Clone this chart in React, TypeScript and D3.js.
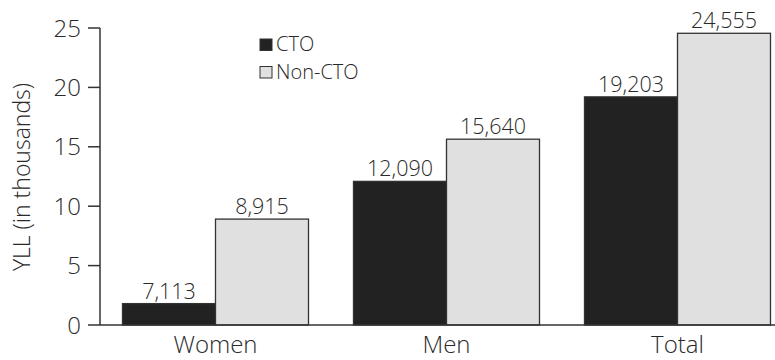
import React from "react";
import * as d3 from "d3";

const categories = ["Women", "Men", "Total"];
const series = ["CTO", "Non-CTO"];
// bar heights in thousands, as drawn in the reference
const ctoValues = [1.8, 12.09, 19.203];
const nonCtoValues = [8.915, 15.64, 24.555];
const ctoLabels = ["7,113", "12,090", "19,203"];
const nonCtoLabels = ["8,915", "15,640", "24,555"];
const yTicks = [0, 5, 10, 15, 20, 25];

const W = 775;
const H = 360;
const FONT = "'Open Sans', Lato, sans-serif";
const colors = ["#222222", "#e0e0e0"];
const TXT = "#2a2a2a";

export default function App() {
  const x0 = d3.scaleBand().domain(categories).range([100, 793]);
  const xInner = d3.scaleBand().domain(series).range([-93, 93]);
  const y = d3.scaleLinear().domain([0, 25]).range([325, 28]);
  const bw = xInner.bandwidth();
  const center = (c: string) => x0(c)! + x0.bandwidth() / 2;
  const groups = categories.map((c, i) => ({
    c,
    vals: [ctoValues[i], nonCtoValues[i]],
    labels: [ctoLabels[i], nonCtoLabels[i]],
  }));
  const legendRow = 27.5;
  return (
    <svg width={W} height={H} style={{ position: "absolute", left: 0, top: 0, background: "#fff" }} fontFamily={FONT} fontWeight={300}>
      {groups.map((g) =>
        g.vals.map((v, j) => {
          const xs = center(g.c) + xInner(series[j])!;
          return (
            <g key={g.c + j}>
              <rect x={xs} y={y(v)} width={bw} height={y(0) - y(v)} fill={colors[j]} stroke="#333" strokeWidth={1.3} />
              <text x={xs + bw / 2} y={y(v) - 5} textAnchor="middle" fontSize={21.5} fill={TXT}>
                {g.labels[j]}
              </text>
            </g>
          );
        })
      )}
      <line x1={100} x2={100} y1={y(25)} y2={y(0)} stroke="#333" strokeWidth={1.5} />
      <line x1={100} x2={775} y1={y(0)} y2={y(0)} stroke="#333" strokeWidth={1.5} />
      {yTicks.map((t) => (
        <g key={t}>
          <line x1={88} x2={100} y1={y(t)} y2={y(t)} stroke="#333" strokeWidth={1.5} />
          <text x={81} y={y(t)} dy="0.36em" textAnchor="end" fontSize={24} fill={TXT}>
            {t}
          </text>
        </g>
      ))}
      {categories.map((c) => (
        <text key={c} x={center(c)} y={353} textAnchor="middle" fontSize={24} fill={TXT}>
          {c}
        </text>
      ))}
      <text transform={`translate(30,177) rotate(-90)`} textAnchor="middle" fontSize={23} fill={TXT}>
        YLL (in thousands)
      </text>
      <g transform="translate(260,39)">
        {series.map((s, i) => (
          <g key={s} transform={`translate(0,${i * legendRow})`}>
            <rect x={0} y={0} width={12} height={11.5} fill={colors[i]} stroke="#333" strokeWidth={1} />
            <text x={16} y={12} fontSize={20} fill={TXT}>
              {s}
            </text>
          </g>
        ))}
      </g>
    </svg>
  );
}
